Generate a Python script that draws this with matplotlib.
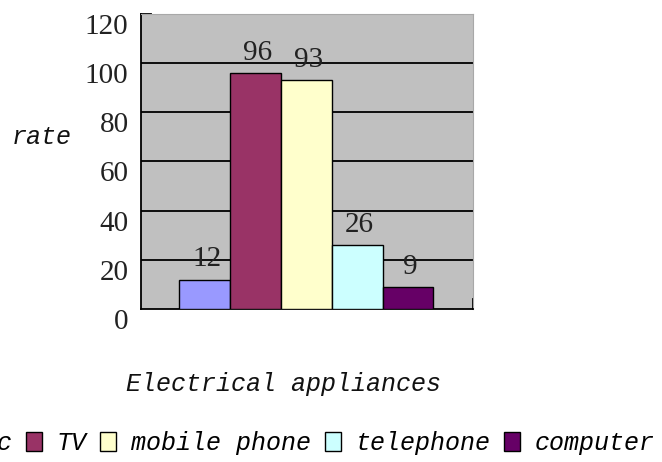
import numpy as np
import matplotlib.pyplot as plt
from matplotlib.patches import Patch

# data
series = ["music", "TV", "mobile phone", "telephone", "computer"]
rates = [12, 96, 93, 26, 9]
colors = ["#9999FF", "#993366", "#FFFFCC", "#CCFFFF", "#660066"]
yticks = [0, 20, 40, 60, 80, 100, 120]

mono = "Liberation Mono"
serif = "Liberation Serif"

fig = plt.figure(figsize=(6.62, 4.62), dpi=100)
ax = fig.add_axes([0.213, 0.331, 0.5015, 0.639])
ax.set_facecolor("#C0C0C0")

x = np.arange(len(rates))
bars = ax.bar(x, rates, width=1.0, color=colors, edgecolor="black", linewidth=1.0, zorder=3)
for xi, v in zip(x, rates):
    ax.text(xi + 0.05, v + 3, str(v), ha="center", va="bottom",
            fontsize=21, family=serif, color="#222222", zorder=4)

ax.set_xlim(-1.25, 5.28)
ax.set_ylim(0, 120)
ax.set_yticks(yticks)
ax.set_yticklabels([str(t) for t in yticks], family=serif, fontsize=21, color="#222222")
for lab in ax.get_yticklabels():
    lab.set_verticalalignment("top")
ax.tick_params(axis="y", length=0, pad=9)
ax.set_xticks([])
for g in yticks[1:-1]:
    ax.axhline(g, color="black", linewidth=1.3, zorder=1)
# short stub at the top of the value axis and small mark at bottom right
ax.plot([-1.25, -1.05], [120, 120], color="black", linewidth=1.3, clip_on=False, zorder=2)
ax.plot([5.28, 5.28], [0, 4], color="black", linewidth=1.3, clip_on=False, zorder=2)

ax.spines["left"].set_color("black")
ax.spines["bottom"].set_color("black")
ax.spines["left"].set_linewidth(1.3)
ax.spines["bottom"].set_linewidth(1.3)
ax.spines["top"].set_color("#A8A8A8")
ax.spines["right"].set_color("#A8A8A8")

fig.text(12 / 662, 1 - 137 / 462, "rate", family=mono, style="italic",
         fontsize=18, ha="left", va="center", color="#111111")
fig.text(283 / 662, 1 - 384 / 462, "Electrical appliances", family=mono, style="italic",
         fontsize=18, ha="center", va="center", color="#111111")

handles = [Patch(facecolor=c, edgecolor="black", linewidth=1.0) for c in colors]
leg = fig.legend(handles, series, loc="center right", bbox_to_anchor=(655 / 662, 1 - 443 / 462),
                 ncol=5, frameon=False, handlelength=0.63, handleheight=0.8,
                 handletextpad=0.6, columnspacing=0.55, borderaxespad=0, borderpad=0,
                 prop={"family": mono, "style": "italic", "size": 18})

fig.savefig("out.png", dpi=100)
